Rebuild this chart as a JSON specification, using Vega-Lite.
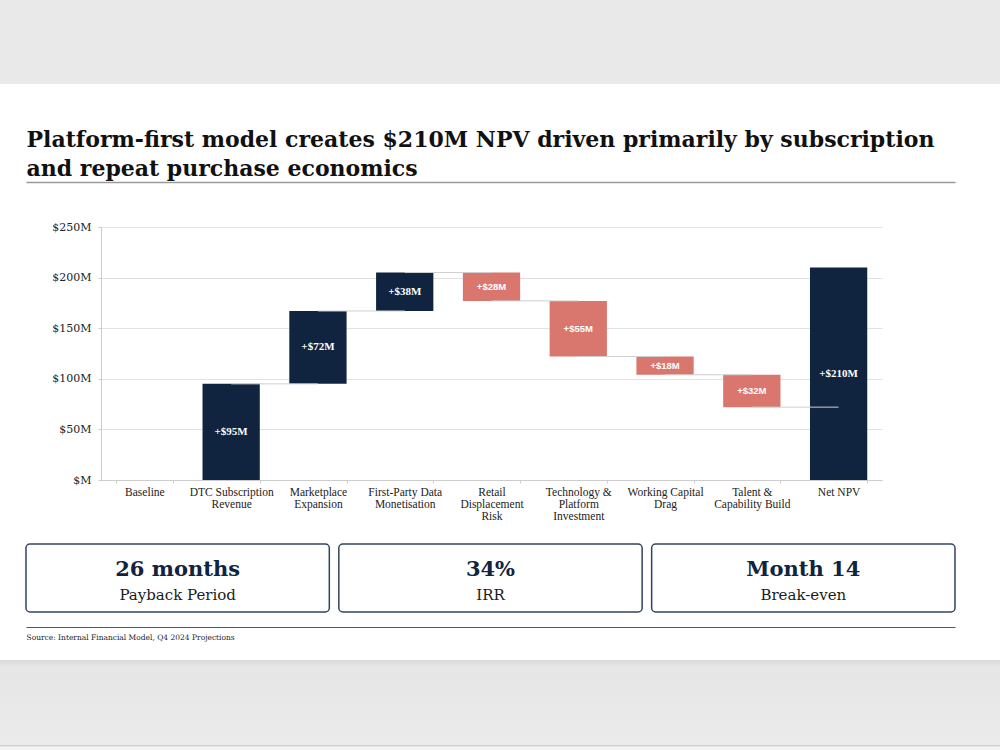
{
  "$schema": "https://vega.github.io/schema/vega-lite/v6.json",
  "padding": 0,
  "spacing": 0,
  "bounds": "flush",
  "center": true,
  "background": "#ffffff",
  "config": {"view": {"stroke": null}, "concat": {"spacing": 0}},
  "vconcat": [
    {
      "width": 1000, "height": 84,
      "data": {"values": [{}]},
      "mark": {"type": "point", "opacity": 0},
      "view": {"fill": "#e9e9e9", "stroke": null}
    },
    {
      "width": 1000, "height": 98,
      "data": {"values": [{}]},
      "mark": {"type": "point", "opacity": 0}
    },
    {
      "width": 1000, "height": 45,
      "data": {"values": [{"k": 0}]},
      "mark": {"type": "point", "opacity": 0},
      "encoding": {
        "x": {
          "field": "k", "type": "quantitative",
          "scale": {"domain": [0, 1], "range": [26, 955]},
          "axis": {
            "orient": "top", "domain": true, "domainColor": "#9a9a9a", "domainWidth": 1.5,
            "ticks": false, "labels": false, "grid": false,
            "title": ["Platform-first model creates $210M NPV driven primarily by subscription", "and repeat purchase economics"],
            "titleFont": "DejaVu Serif", "titleFontSize": 22, "titleFontWeight": "bold", "titleColor": "#111111",
            "titleAnchor": "start", "titleAlign": "left", "titleBaseline": "bottom",
            "titleLineHeight": 28.5, "titlePadding": 2
          }
        }
      }
    },
    {
      "width": 798, "height": 253,
      "data": {"values": [
        {"step": "Baseline", "start": 0, "end": 0, "kind": "base", "label": "", "next": null},
        {"step": "DTC Subscription|Revenue", "start": 0, "end": 95, "kind": "gain", "label": "+$95M", "next": "Marketplace|Expansion"},
        {"step": "Marketplace|Expansion", "start": 95, "end": 167, "kind": "gain", "label": "+$72M", "next": "First-Party Data|Monetisation"},
        {"step": "First-Party Data|Monetisation", "start": 167, "end": 205, "kind": "gain", "label": "+$38M", "next": "Retail|Displacement|Risk"},
        {"step": "Retail|Displacement|Risk", "start": 205, "end": 177, "kind": "loss", "label": "+$28M", "next": "Technology &|Platform|Investment"},
        {"step": "Technology &|Platform|Investment", "start": 177, "end": 122, "kind": "loss", "label": "+$55M", "next": "Working Capital|Drag"},
        {"step": "Working Capital|Drag", "start": 122, "end": 104, "kind": "loss", "label": "+$18M", "next": "Talent &|Capability Build"},
        {"step": "Talent &|Capability Build", "start": 104, "end": 72, "kind": "loss", "label": "+$32M", "next": "Net NPV"},
        {"step": "Net NPV", "start": 0, "end": 210, "kind": "total", "label": "+$210M", "next": null}
      ]},
      "encoding": {
        "x": {
          "field": "step", "type": "nominal", "sort": null,
          "scale": {
            "domain": ["Baseline", "DTC Subscription|Revenue", "Marketplace|Expansion", "First-Party Data|Monetisation", "Retail|Displacement|Risk", "Technology &|Platform|Investment", "Working Capital|Drag", "Talent &|Capability Build", "Net NPV"],
            "range": [0, 781],
            "paddingInner": 0.34, "paddingOuter": 0.17
          },
          "axis": {
            "title": null, "labelAngle": 0, "labelExpr": "split(datum.label, '|')",
            "labelFont": "Liberation Serif", "labelFontSize": 11.5, "labelColor": "#222222",
            "labelLineHeight": 12, "labelPadding": 3, "labelOverlap": false, "labelLimit": 0,
            "tickBand": "extent", "tickSize": 3, "tickColor": "#cccccc",
            "domainColor": "#cccccc", "grid": false
          }
        }
      },
      "layer": [
        {
          "transform": [{"filter": "datum.kind != 'base'"}],
          "mark": {"type": "bar"},
          "encoding": {
            "y": {
              "field": "start", "type": "quantitative",
              "scale": {"domain": [0, 250]},
              "axis": {
                "title": null, "values": [0, 50, 100, 150, 200, 250],
                "labelExpr": "'$' + (datum.value == 0 ? '' : datum.value) + 'M'",
                "labelFont": "DejaVu Serif", "labelFontSize": 11, "labelColor": "#222222",
                "labelPadding": 7, "tickSize": 3, "tickColor": "#cccccc",
                "domainColor": "#cccccc", "grid": true, "gridColor": "#e2e2e2"
              }
            },
            "y2": {"field": "end"},
            "color": {
              "field": "kind", "type": "nominal",
              "scale": {"domain": ["gain", "loss", "total"], "range": ["#10233f", "#d9766d", "#10233f"]},
              "legend": null
            }
          }
        },
        {
          "transform": [{"filter": "datum.next != null"}],
          "mark": {"type": "rule", "color": "#cfcfcf", "strokeWidth": 1},
          "encoding": {
            "x2": {"field": "next"},
            "y": {"field": "end", "type": "quantitative", "scale": {"domain": [0, 250]}, "title": null}
          }
        },
        {
          "transform": [
            {"filter": "datum.kind == 'gain' || datum.kind == 'total'"},
            {"calculate": "(datum.start + datum.end) / 2", "as": "mid"}
          ],
          "mark": {"type": "text", "font": "Liberation Serif", "fontWeight": "bold", "fontSize": 11, "color": "#ffffff"},
          "encoding": {
            "y": {"field": "mid", "type": "quantitative", "scale": {"domain": [0, 250]}, "title": null},
            "text": {"field": "label"}
          }
        },
        {
          "transform": [
            {"filter": "datum.kind == 'loss'"},
            {"calculate": "(datum.start + datum.end) / 2", "as": "mid"}
          ],
          "mark": {"type": "text", "font": "Liberation Sans", "fontWeight": "bold", "fontSize": 9.5, "color": "#ffffff"},
          "encoding": {
            "y": {"field": "mid", "type": "quantitative", "scale": {"domain": [0, 250]}, "title": null},
            "text": {"field": "label"}
          }
        }
      ]
    },
    {
      "width": 1000, "height": 64,
      "data": {"values": [{}]},
      "mark": {"type": "point", "opacity": 0}
    },
    {
      "width": 1000, "height": 68,
      "data": {"values": [
        {"metric": "Payback Period", "value": "26 months"},
        {"metric": "IRR", "value": "34%"},
        {"metric": "Break-even", "value": "Month 14"}
      ]},
      "encoding": {
        "x": {
          "field": "metric", "type": "nominal", "sort": null, "axis": null,
          "scale": {"paddingInner": 0.0304, "paddingOuter": 0.1135, "align": 0.366}
        }
      },
      "layer": [
        {"mark": {"type": "rect", "fill": "#ffffff", "stroke": "#34445e", "strokeWidth": 1.5, "cornerRadius": 4}},
        {
          "mark": {"type": "text", "font": "DejaVu Serif", "fontWeight": "bold", "fontSize": 21, "color": "#10233f", "baseline": "alphabetic", "dy": -2},
          "encoding": {"text": {"field": "value"}}
        },
        {
          "mark": {"type": "text", "font": "DejaVu Serif", "fontSize": 15, "color": "#1c1c1c", "baseline": "alphabetic", "dy": 22},
          "encoding": {"text": {"field": "metric"}}
        }
      ]
    },
    {
      "width": 1000, "height": 15,
      "data": {"values": [{"k": 0}]},
      "mark": {"type": "point", "opacity": 0},
      "encoding": {
        "x": {
          "field": "k", "type": "quantitative",
          "scale": {"domain": [0, 1], "range": [26, 955]},
          "axis": {
            "orient": "bottom", "domain": true, "domainColor": "#555555", "domainWidth": 1,
            "ticks": false, "labels": false, "grid": false,
            "title": "Source: Internal Financial Model, Q4 2024 Projections",
            "titleFont": "DejaVu Serif", "titleFontSize": 7.5, "titleFontWeight": "normal", "titleColor": "#222222",
            "titleAnchor": "start", "titleAlign": "left", "titleBaseline": "alphabetic", "titlePadding": 12
          }
        }
      }
    },
    {
      "width": 1000, "height": 33,
      "data": {"values": [{}]},
      "mark": {"type": "point", "opacity": 0}
    },
    {
      "width": 1000, "height": 85,
      "data": {"values": [{}]},
      "mark": {"type": "point", "opacity": 0},
      "view": {
        "fill": {
          "gradient": "linear", "x1": 0, "y1": 0, "x2": 0, "y2": 1,
          "stops": [
            {"offset": 0, "color": "#dadada"},
            {"offset": 0.08, "color": "#e6e6e6"},
            {"offset": 1, "color": "#ebebeb"}
          ]
        },
        "stroke": null
      }
    },
    {
      "width": 1000, "height": 1.5,
      "data": {"values": [{}]},
      "mark": {"type": "point", "opacity": 0},
      "view": {"fill": "#cfcfcf", "stroke": null}
    },
    {
      "width": 1000, "height": 3.5,
      "data": {"values": [{}]},
      "mark": {"type": "point", "opacity": 0},
      "view": {"fill": "#f3f3f3", "stroke": null}
    }
  ]
}
